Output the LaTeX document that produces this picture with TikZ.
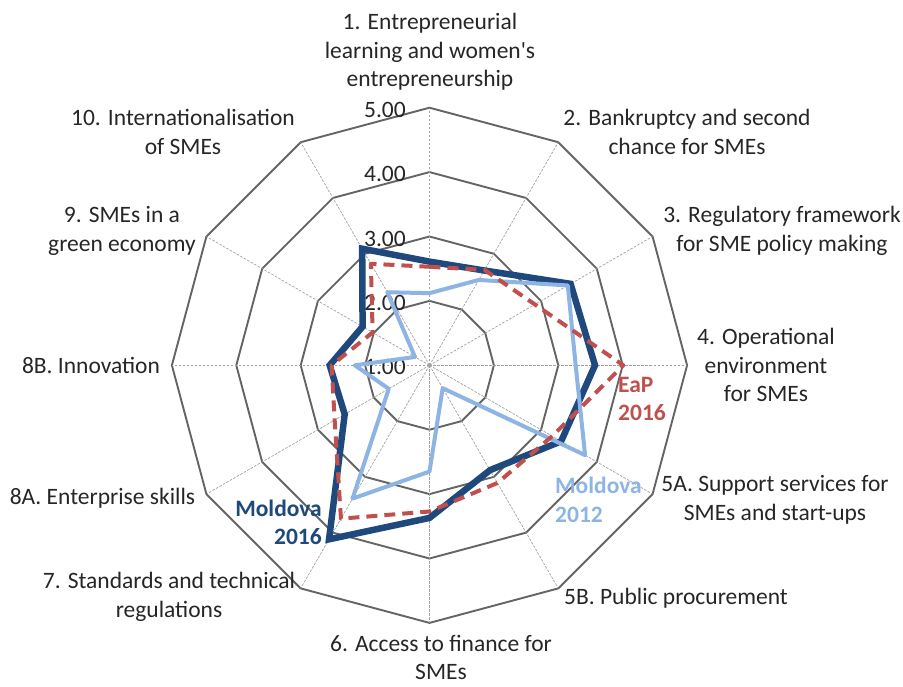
\documentclass[tikz,border=0pt]{standalone}
\usepackage{fontspec}
\setmainfont{Carlito}
\usepackage{xcolor}
\usepackage{tikz}
\usetikzlibrary{calc,positioning}
\definecolor{mdnew}{RGB}{31,73,125}
\definecolor{mdold}{RGB}{141,180,226}
\definecolor{eapred}{RGB}{192,80,77}
\definecolor{ringgray}{RGB}{100,100,100}
\definecolor{labelgray}{RGB}{38,38,38}
\newcommand{\unitlen}{64.4} % one score point, in pt

\begin{document}
\begin{tikzpicture}[x=1pt,y=1pt,
            ring/.style={draw=ringgray,line width=1.9pt},
            spoke/.style={draw=gray!75,line width=0.7pt,dash pattern=on 2.5pt off 1.5pt},
            axislabel/.style={font=\fontsize{23.5}{28.5}\selectfont,text=labelgray,align=center,inner sep=0pt},
            scalelabel/.style={font=\fontsize{23.5}{28.5}\selectfont,text=labelgray,anchor=east,inner sep=0pt},
            seriesname/.style={font=\fontsize{23.5}{28.5}\selectfont\bfseries,inner sep=0pt},
            mdsixteen/.style={draw=mdnew,line width=6.5pt,line join=miter,miter limit=3},
            mdtwelve/.style={draw=mdold,line width=4pt,line join=round},
            eapsixteen/.style={draw=eapred,line width=4pt,dash pattern=on 11pt off 7pt,line join=round}]
            \useasboundingbox (-429.5,-320.7) rectangle (473.5,365.3);

            % Grid: rings for 2.00 ... 5.00 and the twelve spokes
            \foreach \k in {2,...,5}
              \draw[ring] (90:{(\k-1)*\unitlen}) \foreach \a in {60,30,...,-240}{ -- (\a:{(\k-1)*\unitlen})} -- cycle;
            \foreach \a in {90,60,...,-240}
              \draw[spoke] (0,0) -- (\a:{4*\unitlen});

            % Scale values
            \foreach \k in {1,...,5}
              \node[scalelabel] (s\k) at (-23.5,{(\k-1)*\unitlen-2}) {\k.00};

            % Define the data points of each series
            \foreach \v [count=\i from 0] in {2.61,2.70,3.53,3.57,3.36,2.88,3.37,4.12,2.52,2.55,2.20,3.09}
              \coordinate (n\i) at ({90-30*\i}:{(\v-1)*\unitlen});
            \foreach \v [count=\i from 0] in {2.12,2.53,3.48,3.27,3.79,1.41,2.65,3.39,1.73,2.16,1.26,2.31}
              \coordinate (o\i) at ({90-30*\i}:{(\v-1)*\unitlen});
            \foreach \v [count=\i from 0] in {2.53,2.71,2.89,4.01,3.20,3.11,3.27,3.75,2.70,2.52,2.02,2.82}
              \coordinate (e\i) at ({90-30*\i}:{(\v-1)*\unitlen});

            % Connect the points of each series
            \draw[mdsixteen] (n0) \foreach \i in {1,...,11}{ -- (n\i)} -- cycle;
            \draw[mdtwelve] (o0) \foreach \i in {1,...,11}{ -- (o\i)} -- cycle;
            \draw[eapsixteen] (e0) \foreach \i in {1,...,11}{ -- (e\i)} -- cycle;

            % Axis names
            \node[axislabel] (a1)  at (0.5,313.3)     {1. Entrepreneurial\\learning and women\textquotesingle s\\entrepreneurship};
            \node[axislabel] (a2)  at (257.5,233.3)   {2. Bankruptcy and second\\chance for SMEs};
            \node[axislabel] (a3)  at (352.5,134.3)   {3. Regulatory framework\\for SME policy making};
            \node[axislabel] (a4)  at (336.5,0.3)     {4. Operational\\environment\\for SMEs};
            \node[axislabel] (a5A) at (345.5,-134.7)  {5A. Support services for\\SMEs and start-ups};
            \node[axislabel] (a5B) at (246.5,-232.7)  {5B. Public procurement};
            \node[axislabel] (a6)  at (11.5,-292)     {6. Access to finance for\\SMEs};
            \node[axislabel] (a7)  at (-260.5,-231.7) {7. Standards and technical\\regulations};
            \node[axislabel] (a8A) at (-327,-132.7)   {8A. Enterprise skills};
            \node[axislabel] (a8B) at (-338.5,0.3)    {8B. Innovation};
            \node[axislabel] (a9)  at (-307.5,134.3)  {9. SMEs in a\\green economy};
            \node[axislabel] (a10) at (-246.5,233.3)  {10. Internationalisation\\of SMEs};

            % Series names
            \node[seriesname,text=eapred,anchor=west,align=left] (eap) at (188.5,-33.7) {EaP\\2016};
            \node[seriesname,text=mdold,anchor=west,align=left] (old) at (125.5,-134.7) {Moldova\\2012};
            \node[seriesname,text=mdnew,anchor=east,align=right] (new) at (-107.5,-157.2) {Moldova\\2016};
\end{tikzpicture}
\end{document}
